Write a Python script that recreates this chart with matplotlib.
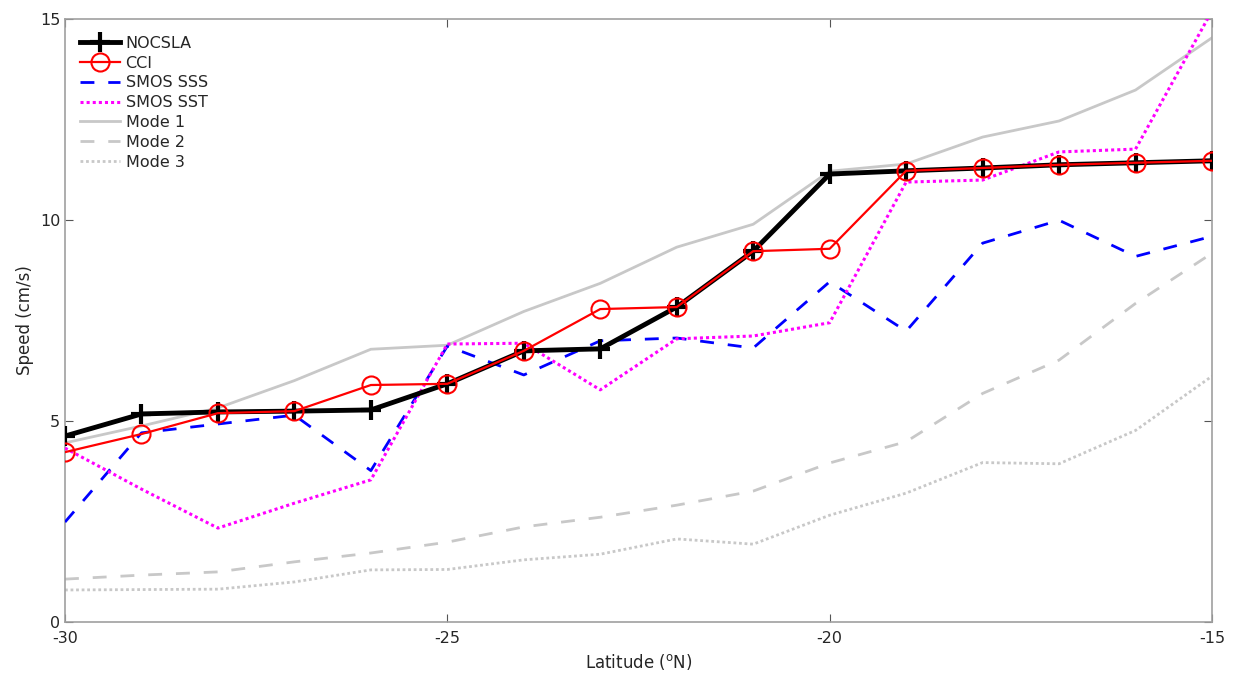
import matplotlib
matplotlib.use("Agg")
import matplotlib.pyplot as plt
import numpy as np

plt.rcParams["axes.unicode_minus"] = False

# latitudes (deg N)
lat = np.arange(-30, -14, 1)

# phase speeds (cm/s)
nocsla = [4.62, 5.17, 5.22, 5.24, 5.27, 5.92, 6.74, 6.79, 7.83, 9.22,
          11.14, 11.22, 11.29, 11.37, 11.42, 11.47]
cci = [4.22, 4.67, 5.19, 5.24, 5.89, 5.92, 6.74, 7.78, 7.83, 9.22,
       9.28, 11.22, 11.29, 11.37, 11.42, 11.47]
smos_sss = [2.48, 4.70, 4.92, 5.14, 3.76, 6.86, 6.14, 6.99, 7.06, 6.81,
            8.46, 7.23, 9.42, 9.99, 9.09, 9.59]
smos_sst = [4.32, 3.30, 2.33, 2.95, 3.53, 6.91, 6.93, 5.77, 7.04, 7.11,
            7.44, 10.94, 10.99, 11.69, 11.76, 15.2]
mode1 = [4.45, 4.87, 5.32, 6.00, 6.78, 6.88, 7.72, 8.42, 9.32, 9.89,
         11.21, 11.39, 12.06, 12.46, 13.23, 14.53]
mode2 = [1.06, 1.16, 1.24, 1.49, 1.71, 1.98, 2.36, 2.60, 2.90, 3.25,
         3.95, 4.48, 5.68, 6.51, 7.92, 9.17]
mode3 = [0.79, 0.80, 0.81, 0.99, 1.29, 1.30, 1.54, 1.68, 2.06, 1.93,
         2.65, 3.20, 3.96, 3.93, 4.76, 6.11]

grey = "#c8c8c8"

fig = plt.figure(figsize=(12.38, 6.8), dpi=100)
ax = fig.add_axes([0.0525, 0.0857, 0.9265, 0.8865])

ax.plot(lat, nocsla, color="black", lw=3.5, marker="+", ms=15, mew=3,
        label="NOCSLA", zorder=5)
ax.plot(lat, cci, color="red", lw=1.6, marker="o", ms=13, mfc="none", mew=1.5,
        label="CCI", zorder=6)
ax.plot(lat, smos_sss, color="blue", lw=2, ls=(0, (5, 5)), label="SMOS SSS", zorder=4)
ax.plot(lat, smos_sst, color="magenta", lw=2.2, ls=(0, (1, 1)), label="SMOS SST", zorder=4)
ax.plot(lat, mode1, color=grey, lw=2, label="Mode 1", zorder=2)
ax.plot(lat, mode2, color=grey, lw=2, ls=(0, (5, 5)), label="Mode 2", zorder=2)
ax.plot(lat, mode3, color=grey, lw=2, ls=(0, (1, 1)), label="Mode 3", zorder=2)

ax.set_xlim(-30, -15)
ax.set_ylim(0, 15)
ax.set_xticks([-30, -25, -20, -15])
ax.set_yticks([0, 5, 10, 15])
ax.tick_params(direction="in", length=6, width=0.8, color="#555555",
               labelsize=11.5, labelcolor="#262626", top=True, right=True,
               labeltop=False, labelright=False)
ax.tick_params(axis="x", pad=7)
for s in ax.spines.values():
    s.set_color("#a0a0a0")
    s.set_linewidth(1.2)

ax.set_xlabel("Latitude ($^{\\rm o}$N)", fontsize=12, color="#262626")
ax.set_ylabel("Speed (cm/s)", fontsize=12, color="#262626")

leg = ax.legend(loc="upper left", bbox_to_anchor=(0.002, 0.993), frameon=False,
                fontsize=11.5, handlelength=2.5, handletextpad=0.35,
                labelspacing=0.3, borderpad=0.3)
for t in leg.get_texts():
    t.set_color("#262626")

fig.savefig("out.png", dpi=100)
